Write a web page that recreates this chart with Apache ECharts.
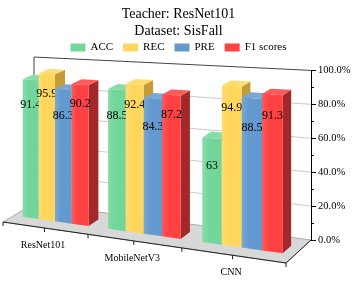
<!DOCTYPE html>
<html><head><meta charset="utf-8">
<script src="https://cdn.jsdelivr.net/npm/echarts@6/dist/echarts.min.js"></script>
<style>html,body{margin:0;padding:0;background:#fff}#c{width:357px;height:282px}</style>
</head><body><div id="c"></div>
<script>
// ---- data ----
const categories = ['ResNet101', 'MobileNetV3', 'CNN'];
const seriesNames = ['ACC', 'REC', 'PRE', 'F1 scores'];
const accValues = [91.4, 88.5, 63];
const recValues = [95.9, 92.4, 94.9];
const preValues = [86.3, 84.3, 88.5];
const f1Values = [90.2, 87.2, 91.3];
const valueTicks = [0, 20, 40, 60, 80, 100];
const allValues = [accValues, recValues, preValues, f1Values];

// ---- styles ----
const frontColors = ['#72D69A', '#FFD65B', '#6399CE', '#FF4141'];
const topColors = ['#86DDA8', '#FFDC70', '#77A8D6', '#FF5A5A'];
const sideColors = ['#4E9E6C', '#C39B38', '#4471A0', '#A3282A'];
const labelOffsets = [25, 19.5, 26, 18.5];
const FONT = 'Liberation Serif';

// ---- perspective frame (floor corners + front height) ----
const FL = [3, 222], FR = [286, 263], BR = [311, 240], BL = [34, 203.5];
const H0 = 151.5;
const V1 = 0.34, V2 = 0.67, GROUP = 0.78;
const Hm = (function () {
  const dx1 = FR[0] - BR[0], dx2 = BL[0] - BR[0], dx3 = FL[0] - FR[0] + BR[0] - BL[0];
  const dy1 = FR[1] - BR[1], dy2 = BL[1] - BR[1], dy3 = FL[1] - FR[1] + BR[1] - BL[1];
  const den = dx1 * dy2 - dx2 * dy1;
  const g = (dx3 * dy2 - dx2 * dy3) / den;
  const h = (dx1 * dy3 - dx3 * dy1) / den;
  return {
    g, h,
    a: FR[0] - FL[0] + g * FR[0], b: BL[0] - FL[0] + h * BL[0], c: FL[0],
    d: FR[1] - FL[1] + g * FR[1], e: BL[1] - FL[1] + h * BL[1], f: FL[1]
  };
})();
function wOf(u, v) { return Hm.g * u + Hm.h * v + 1; }
function proj(u, Y, v) {
  const w = wOf(u, v);
  return [(Hm.a * u + Hm.b * v + Hm.c) / w, (Hm.d * u + Hm.e * v + Hm.f - H0 * Y) / w];
}
const axisBottom = proj(1, 0, 1), axisTop = proj(1, 1, 1);

function fracs(api, params, cat, val) {
  const cs = params.coordSys;
  const p = api.coord([cat, val]);
  const p0 = api.coord([cat, 0]);
  return {
    uc: (p[0] - cs.x) / cs.width,
    bw: api.size([1, 0])[0] / cs.width,
    Y: (p0[1] - p[1]) / cs.height
  };
}

const chart = echarts.init(document.getElementById('c'), null, { renderer: 'canvas' });

const frameSeries = {
  type: 'custom', name: '_frame', coordinateSystem: 'cartesian2d', z: 1, silent: true,
  encode: { x: 0, y: 1 },
  data: valueTicks.map(t => [0, t]),
  renderItem(params, api) {
    const f = fracs(api, params, 0, api.value(1));
    const children = [];
    if (params.dataIndex === 0) {
      const bl0 = proj(0, 0, 1), br0 = proj(1, 0, 1), br1 = proj(1, 1, 1), bl1 = proj(0, 1, 1);
      const fl = proj(0, 0, 0), fr = proj(1, 0, 0);
      children.push({ type: 'polygon', shape: { points: [bl0, br0, br1, bl1] }, style: { fill: '#fff' } });
      children.push({ type: 'polygon', shape: { points: [fl, fr, br0, bl0] }, style: { fill: '#D8D8D8', stroke: '#9a9a9a', lineWidth: 0.8 } });
      children.push({ type: 'line', shape: { x1: fl[0], y1: fl[1], x2: fr[0], y2: fr[1] }, style: { stroke: '#222', lineWidth: 1 } });
      children.push({ type: 'line', shape: { x1: fr[0], y1: fr[1], x2: br0[0], y2: br0[1] }, style: { stroke: '#222', lineWidth: 1 } });
      children.push({ type: 'line', shape: { x1: bl0[0], y1: bl0[1], x2: bl1[0], y2: bl1[1] }, style: { stroke: '#444', lineWidth: 1 } });
    } else {
      const p1 = proj(0, f.Y, 1), p2 = proj(1, f.Y, 1);
      const top = f.Y > 0.999;
      children.push({ type: 'line', shape: { x1: p1[0], y1: p1[1], x2: p2[0], y2: p2[1] },
        style: { stroke: top ? '#444' : '#BDBDBD', lineWidth: top ? 1 : 0.8 } });
    }
    return { type: 'group', children };
  }
};

const catSeries = {
  type: 'custom', name: '_cat', coordinateSystem: 'cartesian2d', z: 3, silent: true,
  encode: { x: 0, y: 1 },
  data: categories.map((c, i) => [i, 0]),
  renderItem(params, api) {
    const i = api.value(0);
    const f = fracs(api, params, i, 0);
    const children = [];
    const us = [f.uc - f.bw / 2, f.uc];
    if (params.dataIndex === categories.length - 1) us.push(f.uc + f.bw / 2);
    us.forEach(u => {
      const p = proj(u, 0, 0);
      children.push({ type: 'line', shape: { x1: p[0], y1: p[1], x2: p[0], y2: p[1] + 4 }, style: { stroke: '#222', lineWidth: 1 } });
    });
    const pc = proj(f.uc, 0, 0);
    children.push({ type: 'text', x: pc[0] - 1.5, y: pc[1] + 17.5,
      style: { text: categories[i], fontSize: 10, fontFamily: FONT, fill: '#000', align: 'center', verticalAlign: 'middle' } });
    return { type: 'group', children };
  }
};

function barSeries(k) {
  return {
    type: 'custom', name: seriesNames[k], coordinateSystem: 'cartesian2d', z: 2,
    itemStyle: { color: frontColors[k] },
    encode: { x: 0, y: 1 },
    data: allValues[k].map((v, i) => [i, v]),
    renderItem(params, api) {
      const cat = api.value(0), val = api.value(1);
      const f = fracs(api, params, cat, val);
      const bwBar = f.bw * GROUP / 4;
      const u1 = f.uc - f.bw * GROUP / 2 + k * bwBar, u2 = u1 + bwBar;
      const Y = f.Y;
      const a0 = proj(u1, 0, V1), b0 = proj(u2, 0, V1), b1 = proj(u2, Y, V1), a1 = proj(u1, Y, V1);
      const c0 = proj(u2, 0, V2), c1 = proj(u2, Y, V2), d1 = proj(u1, Y, V2);
      const front = {
        type: 'linear', x: 0, y: 0, x2: 1, y2: 0,
        colorStops: [{ offset: 0, color: topColors[k] }, { offset: 0.35, color: frontColors[k] }, { offset: 1, color: frontColors[k] }]
      };
      const um = (u1 + u2) / 2;
      const wm = wOf(um, V1);
      const lx = (a1[0] + b1[0]) / 2, ly = (a1[1] + b1[1]) / 2 + labelOffsets[k] / wm;
      return {
        type: 'group', children: [
          { type: 'polygon', shape: { points: [b0, c0, c1, b1] }, style: { fill: sideColors[k] } },
          { type: 'polygon', shape: { points: [a1, b1, c1, d1] }, style: { fill: topColors[k] } },
          { type: 'polygon', shape: { points: [a0, b0, b1, a1] }, style: { fill: front } },
          { type: 'text', x: lx, y: ly, style: { text: String(val), fontSize: 12, fontFamily: FONT, fill: '#000', align: 'center', verticalAlign: 'middle' } }
        ]
      };
    }
  };
}

chart.setOption({
  animation: false,
  title: {
    text: 'Teacher: ResNet101\nDataset: SisFall', left: 'center', top: 0,
    padding: [6, 14, 5, 4],
    textStyle: { fontSize: 14, lineHeight: 17, fontWeight: 'normal', fontFamily: FONT, color: '#000' }
  },
  legend: {
    data: seriesNames.map(n => ({ name: n, icon: 'rect' })),
    top: 37, left: 'center', itemWidth: 15, itemHeight: 8, itemGap: 10,
    textStyle: { fontSize: 11, fontFamily: FONT, color: '#000' }
  },
  grid: { left: 34, right: 357 - axisBottom[0], top: axisTop[1], bottom: 282 - axisBottom[1], containLabel: false },
  xAxis: { type: 'category', data: categories, show: false },
  yAxis: {
    type: 'value', position: 'right', min: 0, max: 100, interval: 20,
    axisLine: { show: true, lineStyle: { color: '#000', width: 1 } },
    axisTick: { show: true, inside: false, length: 5, lineStyle: { color: '#000' } },
    minorTick: { show: true, splitNumber: 2, length: 3, lineStyle: { color: '#000' } },
    splitLine: { show: false },
    axisLabel: { formatter: v => v.toFixed(1) + '%', fontSize: 10.5, fontFamily: FONT, color: '#000', margin: 7 }
  },
  series: [frameSeries, barSeries(0), barSeries(1), barSeries(2), barSeries(3), catSeries]
});
</script></body></html>
